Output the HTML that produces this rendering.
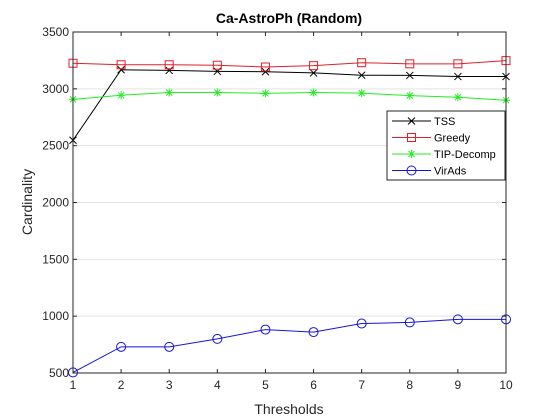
<!DOCTYPE html>
<html><head><meta charset="utf-8"><style>
body{margin:0;background:#fff;}
svg{display:block;font-family:"Liberation Sans",Arial,sans-serif;}
</style></head><body>
<svg id="chart" width="560" height="420" viewBox="0 0 560 420" xmlns="http://www.w3.org/2000/svg">
<rect x="0" y="0" width="560" height="420" fill="#fff"/>
<g id="grid"></g>
<g id="marks"></g>
<rect x="73" y="32" width="433" height="341" fill="none" stroke="#262626" stroke-width="1"/>
<g id="ticks"></g>
<text x="289" y="23" text-anchor="middle" font-size="14" font-weight="bold" fill="#000">Ca-AstroPh (Random)</text>
<text x="289" y="414" text-anchor="middle" font-size="14" fill="#262626">Thresholds</text>
<text transform="translate(32,202) rotate(-90)" text-anchor="middle" font-size="14" fill="#262626">Cardinality</text>
<g id="legend"></g>
</svg>
<script>
const categories=[1,2,3,4,5,6,7,8,9,10];
const tss=[2548,3168,3162,3154,3150,3140,3120,3118,3108,3108];
const greedy=[3225,3212,3212,3208,3192,3204,3230,3220,3220,3248];
const tipDecomp=[2907,2944,2968,2968,2960,2968,2962,2940,2926,2900];
const virAds=[505,730,730,800,882,860,935,945,972,972];
const yTicks=[500,1000,1500,2000,2500,3000,3500];
const seriesNames=["TSS","Greedy","TIP-Decomp","VirAds"];

const NS="http://www.w3.org/2000/svg";
const L=73,R=506,T=32,B=373;
function xs(v){return L+(v-1)/(10-1)*(R-L);}
function ys(v){return B-(v-500)/(3500-500)*(B-T);}
function mk(tag,attrs,parent){const e=document.createElementNS(NS,tag);for(const k in attrs)e.setAttribute(k,attrs[k]);parent.appendChild(e);return e;}
const grid=document.getElementById('grid'),ticks=document.getElementById('ticks'),marks=document.getElementById('marks'),legend=document.getElementById('legend');

yTicks.forEach(v=>{
  const y=ys(v);
  const g=mk('line',{x1:L,x2:R,y1:y,y2:y,stroke:'#e3e3e3','stroke-width':1},grid);
  
  
  const t1=mk('line',{x1:L,x2:L+4,y1:y,y2:y,stroke:'#262626'},ticks);
  
  
  const t2=mk('line',{x1:R-4,x2:R,y1:y,y2:y,stroke:'#262626'},ticks);
  
  
  const tx=mk('text',{x:L-4,y:y+4,'text-anchor':'end','font-size':12,fill:'#262626'},ticks);
  tx.textContent=v;
  
  
});
categories.forEach(c=>{
  const x=xs(c);
  const t1=mk('line',{x1:x,x2:x,y1:B,y2:B-4,stroke:'#262626'},ticks);
  
  
  const t2=mk('line',{x1:x,x2:x,y1:T,y2:T+4,stroke:'#262626'},ticks);
  
  
  const tx=mk('text',{x:x,y:B+16,'text-anchor':'middle','font-size':12,fill:'#262626'},ticks);
  tx.textContent=c;
  
  
});

function marker(type,x,y,color,parent){
  const g=mk('g',{stroke:color,fill:'none','stroke-width':1},parent);
  if(type==='x'){mk('path',{d:`M${x-3.5},${y-3.5}L${x+3.5},${y+3.5}M${x-3.5},${y+3.5}L${x+3.5},${y-3.5}`},g);}
  else if(type==='s'){mk('rect',{x:x-4,y:y-4,width:8,height:8},g);}
  else if(type==='*'){mk('path',{d:`M${x-4},${y}L${x+4},${y}M${x},${y-4}L${x},${y+4}M${x-3},${y-3}L${x+3},${y+3}M${x-3},${y+3}L${x+3},${y-3}`},g);}
  else {mk('circle',{cx:x,cy:y,r:4.5},g);}
  return g;
}
const series=[[tss,'#000000','x','series-tss'],[greedy,'#e0202a','s','series-greedy'],[tipDecomp,'#22ee22','*','series-tip-decomp'],[virAds,'#1515d8','o','series-virads']];
series.forEach(([vals,color,m,name])=>{
  const g=mk('g',{},marks);
  
  
  const pts=vals.map((v,i)=>xs(categories[i])+','+ys(v)).join(' ');
  const pl=mk('polyline',{points:pts,fill:'none',stroke:color,'stroke-width':1},g);
  
  
  vals.forEach((v,i)=>{
    const mg=marker(m,xs(categories[i]),ys(v),color,g);
    
    
  });
});

const lb=mk('rect',{x:387,y:111,width:118,height:69,fill:'#fff',stroke:'#262626','stroke-width':1},legend);


series.forEach(([vals,color,m,name],i)=>{
  const y=121+i*16.5;
  const g=mk('g',{},legend);
  
  
  mk('line',{x1:392,x2:431,y1:y,y2:y,stroke:color,'stroke-width':1},g);
  marker(m,411.5,y,color,g);
  const t=mk('text',{x:434,y:y+4,'font-size':11,fill:'#000'},g);
  t.textContent=seriesNames[i];
});
</script>
</body></html>
